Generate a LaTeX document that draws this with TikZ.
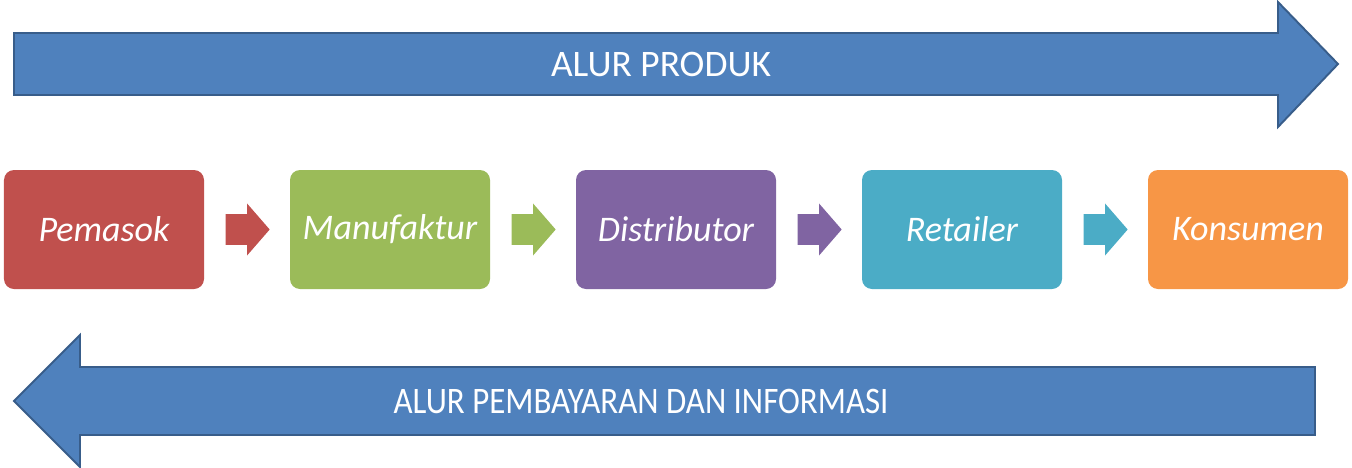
\documentclass[tikz,border=0pt]{standalone}
\usepackage{fontspec}
\setmainfont{Carlito}
\usetikzlibrary{shapes.arrows}

\definecolor{flowblue}{HTML}{4F81BD}
\definecolor{flowedge}{HTML}{385D8A}
\definecolor{boxred}{HTML}{C0504D}
\definecolor{boxgreen}{HTML}{9BBB59}
\definecolor{boxpurple}{HTML}{8064A2}
\definecolor{boxaqua}{HTML}{4BACC6}
\definecolor{boxorange}{HTML}{F79646}

\begin{document}
\begin{tikzpicture}[x=0.2mm, y=-0.2mm,
    box/.style={rounded corners=2mm, minimum width=40mm, minimum height=23.8mm,
        text=white, font=\fontsize{20.5}{24}\selectfont\itshape},
    flowarrow/.style={single arrow, draw=none, inner xsep=0pt, inner ysep=3mm,
        minimum height=8.8mm, minimum width=10.2mm, xshift=-1.2mm,
        single arrow head extend=2.1mm, single arrow tip angle=98},
    bigarrow/.style={fill=flowblue, draw=flowedge, line width=1.1pt},
    biglabel/.style={text=white, font=\fontsize{21.3}{25}\selectfont}]
    \useasboundingbox (0,0) rectangle (1352,468);

    % Draw the product flow arrow
    \draw[bigarrow] (14,33) -- (1278,33) -- (1278,2) -- (1338,64)
        -- (1278,127) -- (1278,95) -- (14,95) -- cycle;
    \node[biglabel] (produk) at (661,64) {ALUR PRODUK};

    % Draw the chain boxes
    \node[box, fill=boxred] (pemasok) at (104,229.5) {Pemasok};
    \node[box, fill=boxgreen] (manufaktur) at (390,229.5) {Manufaktur};
    \node[box, fill=boxpurple] (distributor) at (676,229.5) {Distributor};
    \node[box, fill=boxaqua] (retailer) at (962,229.5) {Retailer};
    \node[box, fill=boxorange] (konsumen) at (1248,229.5) {Konsumen};

    % Draw the small arrows between boxes
    \path (pemasok) -- (manufaktur) node[midway, flowarrow, fill=boxred] {};
    \path (manufaktur) -- (distributor) node[midway, flowarrow, fill=boxgreen] {};
    \path (distributor) -- (retailer) node[midway, flowarrow, fill=boxpurple] {};
    \path (retailer) -- (konsumen) node[midway, flowarrow, fill=boxaqua] {};

    % Draw the payment and information flow arrow
    \draw[bigarrow] (1315,367) -- (80,367) -- (80,335) -- (14,401)
        -- (80,467) -- (80,435) -- (1315,435) -- cycle;
    \node[biglabel, xscale=0.88, transform shape] (pembayaran) at (641,401)
        {ALUR PEMBAYARAN DAN INFORMASI};

\end{tikzpicture}
\end{document}
